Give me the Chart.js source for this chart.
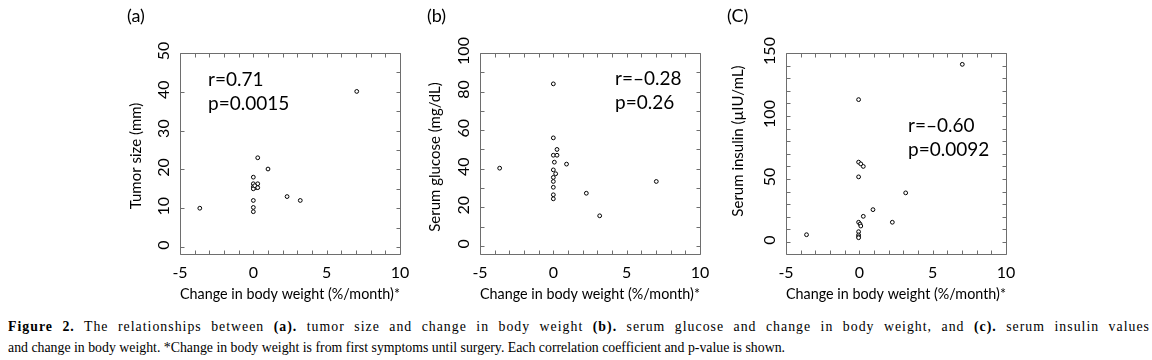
<!DOCTYPE html>
<html>
<head>
<meta charset="utf-8">
<script src="https://cdn.jsdelivr.net/npm/chart.js@4.4.1/dist/chart.umd.min.js"></script>
<style>
  html, body { margin: 0; padding: 0; background: #fff; }
  body { width: 1152px; height: 360px; position: relative; overflow: hidden; }
  .panel { position: absolute; top: 0; width: 320px; height: 310px; }
  .panel canvas { position: absolute; left: 0; top: 0; }
  #caption {
    position: absolute; left: 8px; top: 316px; width: 1142px;
    font-family: "Liberation Serif", serif; font-size: 15px; line-height: 21px; color: #000;
    transform-origin: 0 0;
  }
  #cap1 { text-align: justify; text-align-last: justify; letter-spacing: 1.1px; }
  #caption b { font-weight: bold; }
</style>
</head>
<body>
<div class="panel" style="left:100px"><canvas id="chartA" width="320" height="310"></canvas></div>
<div class="panel" style="left:400px"><canvas id="chartB" width="320" height="310"></canvas></div>
<div class="panel" style="left:706px"><canvas id="chartC" width="320" height="310"></canvas></div>
<div id="caption">
  <div id="cap1"><b>Figure 2.</b> The relationships between <b>(a).</b> tumor size and change in body weight <b>(b).</b> serum glucose and change in body weight, and <b>(c).</b> serum insulin values</div>
  <div><span id="cap2">and change in body weight. *Change in body weight is from first symptoms until surgery. Each correlation coefficient and p-value is shown.</span></div>
</div>
<script>
// shared x axis
const xMin = -5, xMax = 10
const xTitle = 'Change in body weight (%/month)*'

// (a) tumor size
const weightA = [-3.65, 0.3, 1.0, 0, 0, 0.3, 0, 0.2, 0, 0.1, 2.3, 3.2, 0, 0, 0, 7.05, 0.3]
const tumorSize = [10, 23, 20.1, 18, 16.3, 16.3, 15.5, 15.3, 15, 15.8, 13, 12, 12, 10.2, 9.1, 40.1, 15.3]
const yTicksA = [0, 10, 20, 30, 40, 50]

// (b) serum glucose
const weightB = [-3.66, 0, 0, 0.25, 0, 0.25, 0.07, 0.9, 0, 0.16, 0, 0, 0, 0, 0, 2.25, 3.16, 7.02]
const glucose = [40.3, 84, 56, 50, 47, 47, 43.4, 42.4, 39.4, 37.4, 35.5, 33.4, 30.4, 26.5, 24.4, 27.3, 15.6, 33.4]
const yTicksB = [0, 20, 40, 60, 80, 100]

// (c) serum insulin
const weightC = [7.02, -0.05, -0.05, 0.1, 0.27, -0.05, 3.16, 0.93, 0.27, 2.25, -0.05, 0.05, 0.1, -0.05, -0.05, -0.05, -0.05, -3.6]
const insulin = [141, 113, 63.4, 62, 60, 51.7, 39, 25.7, 20.4, 15.7, 15.7, 14.3, 12.7, 8.2, 5.6, 4.2, 3.4, 5.8]
const yTicksC = [0, 50, 100, 150]

const FONT = 'Lato, "Open Sans", sans-serif'
const FRAME = '#6e6e6e'

// box with inward ticks, rotated y labels and the text on each panel
const panelPlugin = {
  id: 'panelText',
  afterDraw(chart, args, o) {
    const { ctx, chartArea: a, scales: { x, y } } = chart
    const L = Math.round(a.left) + 0.5, R = Math.round(a.right) + 0.5
    const T = Math.round(a.top) + 0.5, B = Math.round(a.bottom) + 0.5
    ctx.save()
    ctx.strokeStyle = FRAME
    ctx.lineWidth = 1
    ctx.beginPath()
    ctx.moveTo(L, T); ctx.lineTo(R, T); ctx.lineTo(R, B); ctx.lineTo(L, B); ctx.closePath()
    for (let v = xMin; v <= xMax; v += 1) {
      const px = Math.round(x.getPixelForValue(v)) + 0.5
      ctx.moveTo(px, B); ctx.lineTo(px, B - 4)
      ctx.moveTo(px, T); ctx.lineTo(px, T + 4)
    }
    for (let v = 0; v <= y.max; v += o.leftStep) {
      const py = Math.round(y.getPixelForValue(v)) + 0.5
      ctx.moveTo(L, py); ctx.lineTo(L + 4, py)
    }
    for (let v = 0; v <= y.max; v += o.rightStep) {
      const py = Math.round(y.getPixelForValue(v)) + 0.5
      ctx.moveTo(R, py); ctx.lineTo(R - 4, py)
    }
    ctx.stroke()

    ctx.fillStyle = '#000'
    ctx.textAlign = 'center'
    ctx.textBaseline = 'middle'
    ctx.font = '16px ' + FONT
    o.yLabels.forEach(v => {
      ctx.save()
      ctx.translate(a.left - 16, y.getPixelForValue(v) - 2)
      ctx.rotate(-Math.PI / 2)
      ctx.fillText(String(v), 0, 0)
      ctx.restore()
    })
    ctx.font = '15px ' + FONT
    ctx.save()
    ctx.translate(a.left - o.titleDx, o.titleY)
    ctx.rotate(-Math.PI / 2)
    ctx.fillText(o.yTitle, 0, 0)
    ctx.restore()

    ctx.textAlign = 'left'
    ctx.textBaseline = 'alphabetic'
    ctx.font = '18px ' + FONT
    ctx.fillText(o.panel, o.panelX, 22)
    ctx.font = '19px ' + FONT
    ctx.fillText(o.stats[0], o.statX, o.statY)
    ctx.fillText(o.stats[1], o.statX, o.statY + 24)
    ctx.restore()
  }
}

function makeChart(id, xs, ys, yMin, yMax, panelText) {
  return new Chart(document.getElementById(id), {
    type: 'scatter',
    data: {
      datasets: [{
        data: xs.map((v, i) => ({ x: v, y: ys[i] })),
        pointRadius: 1.9,
        pointBorderWidth: 1,
        pointBorderColor: '#000',
        pointBackgroundColor: '#fff'
      }]
    },
    options: {
      responsive: false,
      animation: false,
      layout: { padding: { top: 53, right: 20, left: 0, bottom: 0 } },
      plugins: { legend: { display: false }, tooltip: { enabled: false }, panelText },
      scales: {
        x: {
          min: xMin, max: xMax,
          grid: { display: false, drawTicks: false }, border: { display: false },
          ticks: { stepSize: 5, padding: 9, color: '#000', font: { family: FONT, size: 16 } },
          title: { display: true, align: 'start', text: xTitle, color: '#000', font: { family: FONT, size: 16 }, padding: { top: 0, bottom: 7 } },
          afterFit: s => { s.height = 56 }
        },
        y: {
          min: yMin, max: yMax,
          grid: { display: false, drawTicks: false }, border: { display: false },
          ticks: { display: false },
          afterFit: s => { s.width = 80 }
        }
      }
    },
    plugins: [panelPlugin]
  })
}

makeChart('chartA', weightA, tumorSize, -1.8, 50, {
  leftStep: 10, rightStep: 5,
  yLabels: yTicksA, yTitle: 'Tumor size (mm)', titleDx: 44, titleY: 156,
  panel: '(a)', panelX: 27, stats: ['r=0.71', 'p=0.0015'], statX: 108, statY: 86
})
makeChart('chartB', weightB, glucose, -4.2, 100, {
  leftStep: 10, rightStep: 10,
  yLabels: yTicksB, yTitle: 'Serum glucose (mg/dL)', titleDx: 45, titleY: 157,
  panel: '(b)', panelX: 27, stats: ['r=\u20130.28', 'p=0.26'], statX: 215, statY: 85
})
makeChart('chartC', weightC, insulin, -9.5, 150, {
  leftStep: 10, rightStep: 10,
  yLabels: yTicksC, yTitle: 'Serum insulin (\u00b5IU/mL)', titleDx: 48, titleY: 141,
  panel: '(C)', panelX: 21, stats: ['r=\u20130.60', 'p=0.0092'], statX: 202, statY: 132
})

// condensed caption: last line ends near x=785, first line justified to full width
const cap = document.getElementById('caption')
const w2 = document.getElementById('cap2').getBoundingClientRect().width
const s = 777 / w2
cap.style.width = (1142 / s) + 'px'
cap.style.transform = 'scaleX(' + s + ')'
</script>
</body>
</html>
